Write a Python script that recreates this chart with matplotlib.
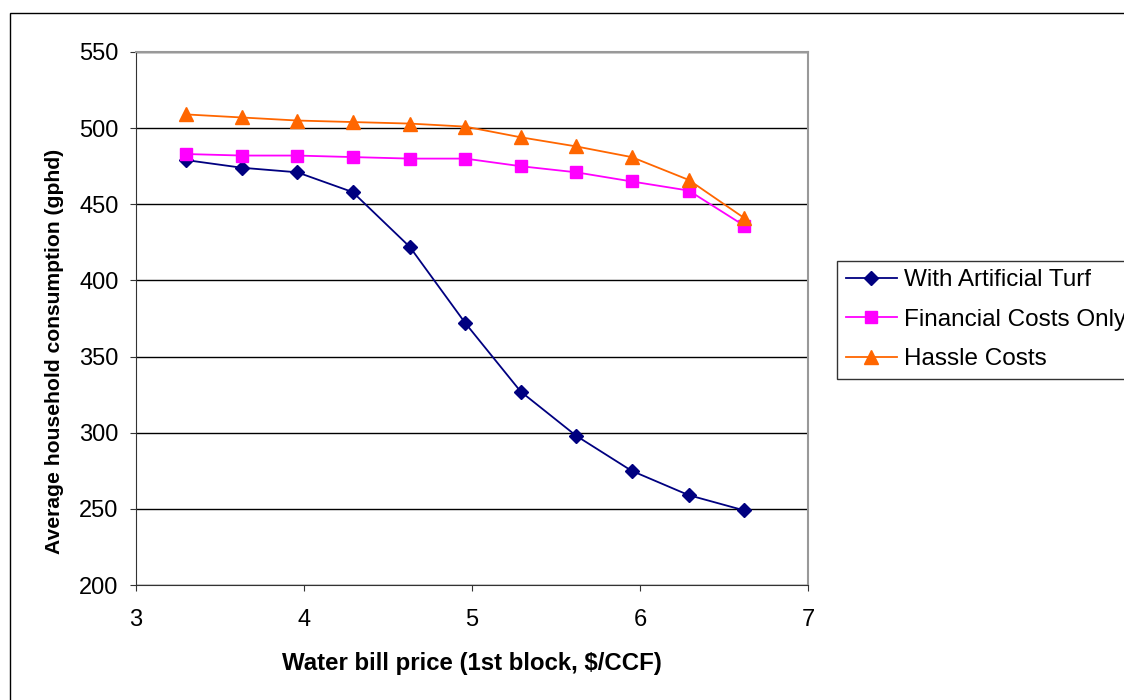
import matplotlib
matplotlib.use("Agg")
import matplotlib.pyplot as plt
from matplotlib.patches import Rectangle

plt.rcParams['font.family'] = ['Liberation Sans', 'DejaVu Sans']

# data
price = [3.30, 3.63, 3.96, 4.29, 4.63, 4.96, 5.29, 5.62, 5.95, 6.29, 6.62]
turf = [479, 474, 471, 458, 422, 372, 327, 298, 275, 259, 249]
financial = [483, 482, 482, 481, 480, 480, 475, 471, 465, 459, 436]
hassle = [509, 507, 505, 504, 503, 501, 494, 488, 481, 466, 441]

fig = plt.figure(figsize=(11.24, 7), dpi=100)
ax = fig.add_axes([136 / 1124, 1 - 585 / 700, 672 / 1124, 533 / 700])

ax.plot(price, turf, color='#000080', marker='D', markersize=7.5, lw=1.3,
        label='With Artificial Turf')
ax.plot(price, financial, color='#ff00ff', marker='s', markersize=8, lw=1.3,
        label='Financial Costs Only')
ax.plot(price, hassle, color='#ff6600', marker='^', markersize=10, lw=1.3,
        label='Hassle Costs')

ax.set_xlim(3, 7)
ax.set_ylim(200, 550)
ax.set_xticks([3, 4, 5, 6, 7])
ax.set_yticks(range(200, 551, 50))
ax.tick_params(labelsize=17, direction='out', length=4.5, color='#333333')
ax.tick_params(axis='x', pad=13)
ax.tick_params(axis='y', pad=8)
ax.yaxis.grid(True, color='black', lw=1)
ax.set_axisbelow(True)
for s in ['top', 'right']:
    ax.spines[s].set_color('#999999')
    ax.spines[s].set_linewidth(1.5)
for s in ['left', 'bottom']:
    ax.spines[s].set_color('#333333')

ax.set_xlabel('Water bill price (1st block, $/CCF)', fontsize=17.3,
              fontweight='bold', labelpad=15)
ax.set_ylabel('Average household consumption (gphd)', fontsize=15.2,
              fontweight='bold')
ax.yaxis.set_label_coords((64 - 136) / 672, (585 - 351) / 533)

leg = fig.legend(loc='lower left', bbox_to_anchor=(837 / 1124, 1 - 379 / 700),
                 fontsize=17.5, fancybox=False, frameon=True, borderaxespad=0,
                 handlelength=2.1, handletextpad=0.3, labelspacing=0.72,
                 borderpad=0.35)
leg.get_frame().set_edgecolor('black')
leg.get_frame().set_linewidth(1)

# outer chart frame
fig.patches.append(Rectangle((10 / 1124, -0.1), 1.2, 1.1 - 13 / 700,
                             transform=fig.transFigure, fill=False,
                             edgecolor='black', lw=1, clip_on=False))

fig.savefig('out.png', dpi=100)
